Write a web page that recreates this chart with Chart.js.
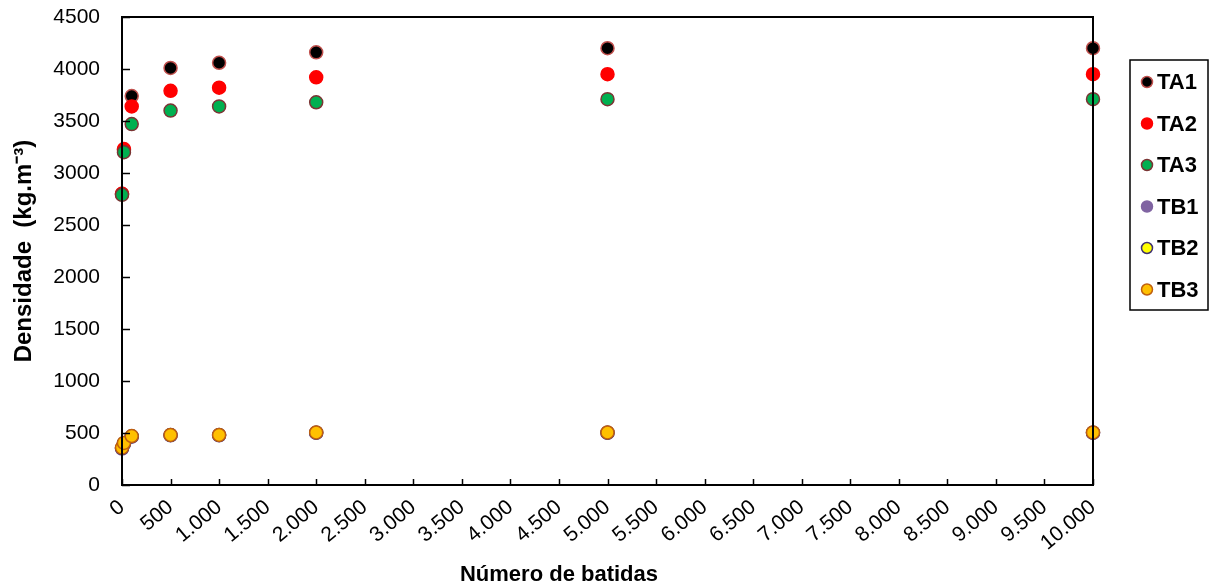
<!DOCTYPE html>
<html>
<head>
<meta charset="utf-8">
<script src="https://cdn.jsdelivr.net/npm/chart.js@4.4.0/dist/chart.umd.min.js"></script>
<style>
  html, body { margin: 0; padding: 0; background: #fff; }
  #wrap { width: 1212px; height: 588px; }
</style>
</head>
<body>
<div id="wrap"><canvas id="myChart" width="1212" height="588"></canvas></div>
<script>
// Número de batidas (x)
const batidas = [0, 20, 100, 500, 1000, 2000, 5000, 10000];

// Densidade (kg.m-3) per series
const ta1 = [2800, 3220, 3740, 4010, 4060, 4160, 4200, 4200];
const ta2 = [2800, 3230, 3640, 3790, 3820, 3920, 3950, 3950];
const ta3 = [2790, 3200, 3470, 3600, 3640, 3680, 3710, 3710];
const tb1 = [350, 395, 465, 478, 478, 502, 502, 502];
const tb2 = [355, 400, 468, 480, 480, 503, 503, 503];
const tb3 = [360, 405, 471, 481, 481, 505, 505, 505];

const seriesNames = ['TA1', 'TA2', 'TA3', 'TB1', 'TB2', 'TB3'];
const fills = ['#000000', '#ff0000', '#00b050', '#8064a2', '#ffff00', '#ffc000'];
const borders = ['#c0504d', '#ff0000', '#7b3434', '#8064a2', '#3f3170', '#c0600e'];

const xTitle = 'Número de batidas';
const yTitle = 'Densidade  (kg.m⁻³)';

const fontFamily = "'Liberation Sans', Arial, sans-serif";

function pts(ys) {
    return batidas.map((x, i) => ({ x: x, y: ys[i] }));
}

const allSeries = [ta1, ta2, ta3, tb1, tb2, tb3];

const datasets = allSeries.map((ys, i) => ({
    label: seriesNames[i],
    data: pts(ys),
    backgroundColor: fills[i],
    borderColor: borders[i],
    borderWidth: 1.5,
    pointRadius: 6.5,
    pointHoverRadius: 6.5,
    showLine: false,
    clip: false,
    order: 6 - i // later series drawn on top
}));

// plot frame, inward tick marks, x title and boxed legend
const framePlugin = {
    id: 'frame',
    afterDraw(chart) {
        const ctx = chart.ctx;
        const a = chart.chartArea;
        const xs = chart.scales.x;
        const ys = chart.scales.y;
        ctx.save();
        ctx.strokeStyle = '#000';
        ctx.lineWidth = 2;
        ctx.strokeRect(a.left, a.top, a.right - a.left, a.bottom - a.top);
        ctx.lineWidth = 1.5;
        ys.ticks.forEach(t => {
            const py = Math.round(ys.getPixelForValue(t.value)) + 0.5;
            ctx.beginPath();
            ctx.moveTo(a.left, py);
            ctx.lineTo(a.left + 8, py);
            ctx.stroke();
        });
        xs.ticks.forEach(t => {
            const px = Math.round(xs.getPixelForValue(t.value)) + 0.5;
            ctx.beginPath();
            ctx.moveTo(px, a.bottom);
            ctx.lineTo(px, a.bottom - 6);
            ctx.stroke();
        });

        // x axis title (sits left of centre in the original)
        ctx.fillStyle = '#000';
        ctx.font = 'bold 22px ' + fontFamily;
        ctx.textAlign = 'center';
        ctx.textBaseline = 'middle';
        ctx.fillText(xTitle, a.left + 437, chart.height - 13);

        // legend
        const lx = a.right + 37, ly = 60, lw = 78, lh = 250;
        ctx.lineWidth = 1.5;
        ctx.strokeRect(lx, ly, lw, lh);
        ctx.font = 'bold 22px ' + fontFamily;
        ctx.textBaseline = 'middle';
        ctx.textAlign = 'left';
        seriesNames.forEach((name, i) => {
            const cy = ly + 22 + i * 41.5;
            ctx.beginPath();
            ctx.arc(lx + 17, cy, 5.5, 0, Math.PI * 2);
            ctx.fillStyle = fills[i];
            ctx.fill();
            ctx.lineWidth = 1.5;
            ctx.strokeStyle = borders[i];
            ctx.stroke();
            ctx.fillStyle = '#000';
            ctx.fillText(name, lx + 27, cy + 1);
        });
        ctx.restore();
    }
};

const config = {
    type: 'scatter',
    data: { datasets: datasets },
    options: {
        responsive: false,
        animation: false,
        layout: { padding: { left: 10, right: 119, top: 17, bottom: 0 } },
        plugins: {
            legend: { display: false },
            tooltip: { enabled: false }
        },
        scales: {
            x: {
                type: 'linear',
                min: 0,
                max: 10000,
                border: { display: false },
                grid: { display: false, drawTicks: false },
                ticks: {
                    stepSize: 500,
                    autoSkip: false,
                    minRotation: 40,
                    maxRotation: 40,
                    padding: 10,
                    color: '#000',
                    font: { family: fontFamily, size: 21 },
                    callback: v => v.toString().replace(/\B(?=(\d{3})+(?!\d))/g, '.')
                },
                title: { display: false },
                afterFit(scale) {
                    scale.height = 103;
                    scale.paddingLeft = 0;
                    scale.paddingRight = 0;
                }
            },
            y: {
                min: 0,
                max: 4500,
                border: { display: false },
                grid: { display: false, drawTicks: false },
                ticks: {
                    stepSize: 500,
                    padding: 22,
                    color: '#000',
                    font: { family: fontFamily, size: 21 },
                    callback: v => String(v)
                },
                title: {
                    display: true,
                    text: yTitle,
                    color: '#000',
                    font: { family: fontFamily, size: 24, weight: 'bold' },
                    padding: { top: 0, bottom: 0 }
                },
                afterFit(scale) {
                    scale.width = 112;
                    scale.paddingTop = 0;
                    scale.paddingBottom = 0;
                }
            }
        }
    },
    plugins: [framePlugin]
};

const myChart = new Chart(document.getElementById('myChart').getContext('2d'), config);
</script>
</body>
</html>
